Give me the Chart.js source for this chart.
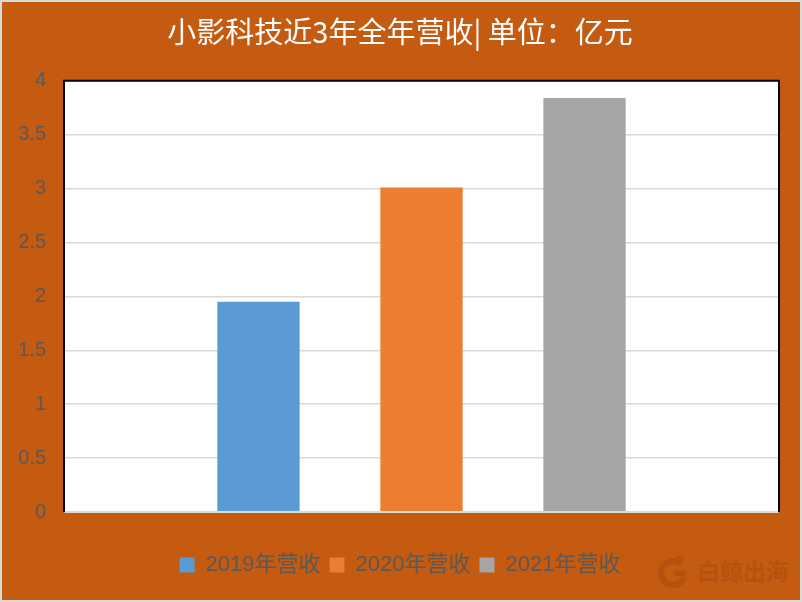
<!DOCTYPE html>
<html>
<head>
<meta charset="utf-8">
<script src="https://cdn.jsdelivr.net/npm/chart.js@4/dist/chart.umd.min.js"></script>
<style>
html,body{margin:0;padding:0;background:#C55A11;}
#wrap{width:802px;height:602px;position:relative;}
</style>
</head>
<body>
<div id="wrap"><canvas id="c" width="802" height="602"></canvas></div>
<script>
const titleText = '小影科技近3年全年营收| 单位：亿元';
const categories = [''];
const seriesNames = ['2019年营收', '2020年营收', '2021年营收'];
const revenue2019 = [1.95];
const revenue2020 = [3.01];
const revenue2021 = [3.84];
const seriesColors = ['#5B9BD5', '#ED7D31', '#A5A5A5'];
const yTicks = [0, 0.5, 1, 1.5, 2, 2.5, 3, 3.5, 4];
const watermarkText = '白鲸出海';

const decor = {
  id: 'decor',
  beforeDraw(chart) {
    const ctx = chart.ctx;
    ctx.save();
    ctx.fillStyle = '#C55A11';
    ctx.fillRect(0, 0, chart.width, chart.height);
    const a = chart.chartArea;
    ctx.fillStyle = '#FFFFFF';
    ctx.fillRect(a.left, a.top, a.right - a.left, a.bottom - a.top);
    ctx.restore();
  },
  afterDraw(chart) {
    const ctx = chart.ctx;
    const a = chart.chartArea;
    ctx.save();
    ctx.strokeStyle = '#000000';
    ctx.lineWidth = 2;
    ctx.beginPath();
    ctx.moveTo(a.left, a.bottom);
    ctx.lineTo(a.left, a.top);
    ctx.lineTo(a.right, a.top);
    ctx.lineTo(a.right, a.bottom);
    ctx.stroke();
    ctx.strokeStyle = '#D9D9D9';
    ctx.beginPath();
    ctx.moveTo(a.left + 1, a.bottom);
    ctx.lineTo(a.right - 1, a.bottom);
    ctx.stroke();
    ctx.strokeStyle = '#D9D9D9';
    ctx.lineWidth = 2;
    ctx.strokeRect(1, 1, chart.width - 2, chart.height - 2);
    // watermark
    const wc = '#B5520F';
    ctx.strokeStyle = wc;
    ctx.fillStyle = wc;
    ctx.lineWidth = 6;
    ctx.beginPath();
    ctx.arc(673, 573, 12, Math.PI * 0.1, Math.PI * 1.75);
    ctx.stroke();
    ctx.beginPath();
    ctx.moveTo(674, 573);
    ctx.lineTo(686, 573);
    ctx.stroke();
    ctx.beginPath();
    ctx.arc(680, 560, 4, 0, Math.PI * 2);
    ctx.fill();
    ctx.font = 'bold 23px "Noto Sans CJK SC"';
    ctx.textBaseline = 'middle';
    ctx.textAlign = 'left';
    ctx.fillText(watermarkText, 697, 571);
    ctx.restore();
  }
};

const datasets = [revenue2019, revenue2020, revenue2021].map((d, i) => ({
  label: seriesNames[i],
  data: d,
  backgroundColor: seriesColors[i],
  borderWidth: 0,
  categoryPercentage: 0.684,
  barPercentage: 0.505
}));

new Chart(document.getElementById('c'), {
  type: 'bar',
  data: { labels: categories, datasets },
  plugins: [decor],
  options: {
    responsive: false,
    animation: false,
    layout: { padding: { left: 0, right: 2, top: 0, bottom: 16 } },
    plugins: {
      title: {
        display: true,
        text: titleText,
        color: '#FFFFFF',
        font: { family: '"Noto Sans CJK SC"', size: 29, weight: 'normal', lineHeight: 1.2 },
        padding: { top: 15, bottom: 31 }
      },
      legend: {
        position: 'bottom',
        labels: {
          color: '#595959',
          font: { family: '"Liberation Sans", "Noto Sans CJK SC"', size: 22 },
          boxWidth: 15,
          boxHeight: 15,
          padding: 9
        }
      },
      tooltip: { enabled: false }
    },
    scales: {
      x: {
        grid: { display: false, drawTicks: false },
        border: { display: false },
        ticks: { display: false },
        afterFit(s) { s.height = 33; }
      },
      y: {
        min: 0,
        max: 4,
        afterBuildTicks(s) { s.ticks = yTicks.map(v => ({ value: v })); },
        grid: { color: '#D9D9D9', lineWidth: 1.5, drawTicks: false },
        border: { display: false },
        ticks: {
          color: '#595959',
          padding: 18,
          font: { family: '"Liberation Sans"', size: 20 },
          callback: v => String(v)
        },
        afterFit(s) { s.width = 64; }
      },
      yRight: {
        position: 'right',
        display: true,
        grid: { display: false, drawTicks: false },
        border: { display: false },
        ticks: { display: false },
        afterFit(s) { s.width = 21; }
      }
    }
  }
});
</script>
</body>
</html>
